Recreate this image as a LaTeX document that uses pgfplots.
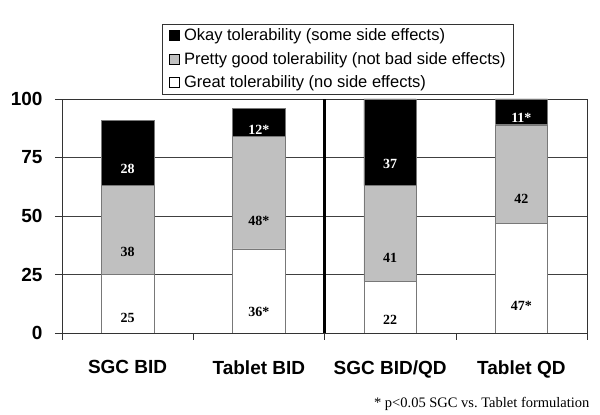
\documentclass[border=0pt]{standalone}
\usepackage{fontspec}
\setmainfont{Liberation Sans}
\newfontfamily\timesfont{Liberation Serif}
\usepackage{pgfplots}
\pgfplotsset{compat=1.18}
\definecolor{barGray}{RGB}{192,192,192}
\definecolor{edgeGray}{RGB}{120,120,120}

\begin{document}
\begin{tikzpicture}[x=1pt,y=1pt]
\useasboundingbox (0,0) rectangle (600,415);
\begin{axis}[
    at={(62pt,82pt)}, anchor=south west,
    scale only axis, width=525pt, height=234pt,
    ybar stacked, bar width=52.5pt,
    xmin=-0.5, xmax=3.5, ymin=0, ymax=100,
    xtick={-0.5,0.5,1.5,2.5,3.5}, xticklabels={},
    extra x ticks={0,1,2,3},
    extra x tick labels={SGC BID, Tablet BID, SGC BID/QD, Tablet QD},
    extra x tick style={major tick length=0pt, grid=none,
        xticklabel style={yshift=-24pt}},
    ytick={0,25,50,75,100},
    yticklabel style={xshift=-9pt},
    /pgf/number format/assume math mode=true,
    ymajorgrids, grid style={black!75, line width=0.5pt},
    tick align=outside, tick pos=left, major tick length=7pt,
    tick style={black!80, line width=0.5pt},
    axis line style={black!80, line width=0.5pt},
    ticklabel style={font=\fontsize{19}{19}\selectfont\bfseries},
    point meta=explicit symbolic,
    nodes near coords,
    visualization depends on=rawy \as \rawy,
    every node near coord/.append style={anchor=center,
        shift={(axis direction cs:0,-\rawy/4)},
        font=\timesfont\bfseries\fontsize{14}{14}\selectfont},
    legend style={at={(0.526,1.322)}, anchor=north, draw=black!80,
        font=\fontsize{16.5}{18}\selectfont, inner xsep=6pt, inner ysep=3pt,
        row sep=6pt,
        /tikz/every even column/.append style={column sep=0pt}},
    legend cell align=left, reverse legend,
    legend image code/.code={\draw[#1, draw=black, line width=0.4pt] (0pt,-5pt) rectangle (10pt,5pt);
        \path (13pt,0pt);},
]
\addplot[fill=white, draw=edgeGray] coordinates {(0,25) [25] (1,36) [36*] (2,22) [22] (3,47) [47*]};
\addplot[fill=barGray, draw=edgeGray] coordinates {(0,38) [38] (1,48) [48*] (2,41) [41] (3,42) [42]};
\addplot[fill=black, draw=edgeGray, every node near coord/.append style={text=white}] coordinates {(0,28) [28] (1,12) [12*] (2,37) [37] (3,11) [11*]};
\legend{Great tolerability (no side effects), Pretty good tolerability (not bad side effects), Okay tolerability (some side effects)}
\draw[line width=3pt] ([yshift=-3pt]axis cs:1.5,0) -- (axis cs:1.5,100);
\end{axis}
\node[anchor=base east, font=\timesfont\fontsize{14.5}{14.5}\selectfont] at (593,7) {* p<0.05 SGC vs.\ Tablet formulation};
\end{tikzpicture}
\end{document}
